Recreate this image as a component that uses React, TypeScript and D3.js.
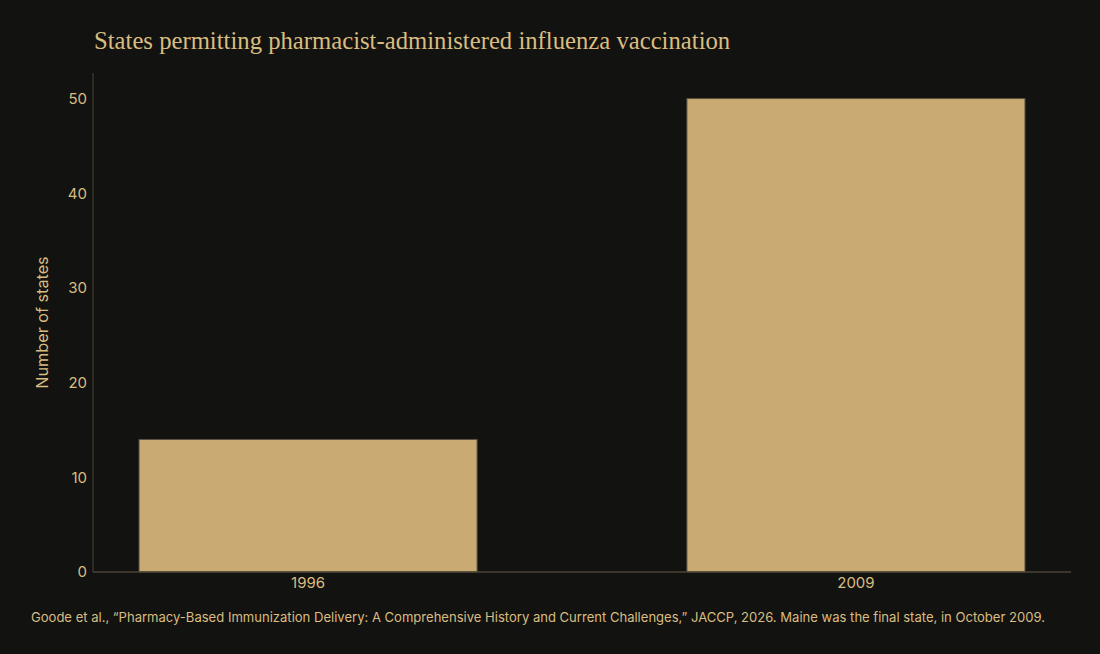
import React from "react";
import * as d3 from "d3";

const categories = ["1996", "2009"];
const values = [14, 50];
const yTicks = [0, 10, 20, 30, 40, 50];

const W = 1100;
const H = 654;
const M = { left: 93, right: 29, top: 73, bottom: 82 };

const BG = "#121210";
const GOLD = "#c8aa72";
const TEXT = "#d9bd80";
const AXIS = "#4a4535";

export default function App() {
  const x = d3
    .scaleBand<string>()
    .domain(categories)
    .range([M.left, W - M.right])
    .paddingInner(0.383)
    .paddingOuter(0.084);
  const y = d3
    .scaleLinear()
    .domain([0, 52.7])
    .range([H - M.bottom, M.top]);

  const sans = "Inter, 'DejaVu Sans', sans-serif";
  const serif = "'Liberation Serif', 'DejaVu Serif', serif";

  return (
    <svg
      width={W}
      height={H}
      style={{ position: "absolute", left: 0, top: 0, background: BG, display: "block" }}
    >
      <rect x={0} y={0} width={W} height={H} fill={BG} />
      <text x={94} y={49} fill={TEXT} fontFamily={serif} fontSize={24.7}>
        States permitting pharmacist-administered influenza vaccination
      </text>

      {categories.map((c, i) => (
        <rect
          key={c}
          x={x(c)}
          y={y(values[i])}
          width={x.bandwidth()}
          height={y(0) - y(values[i])}
          fill={GOLD}
          stroke="#5a5040"
          strokeWidth={1}
        />
      ))}

      <line x1={M.left} x2={M.left} y1={M.top} y2={y(0)} stroke={AXIS} strokeWidth={1} />
      <line x1={M.left} x2={W - M.right} y1={y(0)} y2={y(0)} stroke={AXIS} strokeWidth={1.5} />

      {yTicks.map((t) => (
        <text
          key={t}
          x={87}
          y={y(t)}
          dy="0.35em"
          textAnchor="end"
          fill={TEXT}
          fontFamily={sans}
          fontSize={15}
        >
          {t}
        </text>
      ))}

      {categories.map((c) => (
        <text
          key={c}
          x={(x(c) as number) + x.bandwidth() / 2}
          y={588}
          textAnchor="middle"
          fill={TEXT}
          fontFamily={sans}
          fontSize={15}
        >
          {c}
        </text>
      ))}

      <text
        transform={`translate(48, ${(M.top + y(0)) / 2}) rotate(-90)`}
        textAnchor="middle"
        fill={TEXT}
        fontFamily={sans}
        fontSize={16.2}
      >
        Number of states
      </text>

      <text x={31} y={622} fill={TEXT} fontFamily={sans} fontSize={13.05}>
        Goode et al., “Pharmacy-Based Immunization Delivery: A Comprehensive History and Current Challenges,” JACCP, 2026. Maine was the final state, in October 2009.
      </text>
    </svg>
  );
}
